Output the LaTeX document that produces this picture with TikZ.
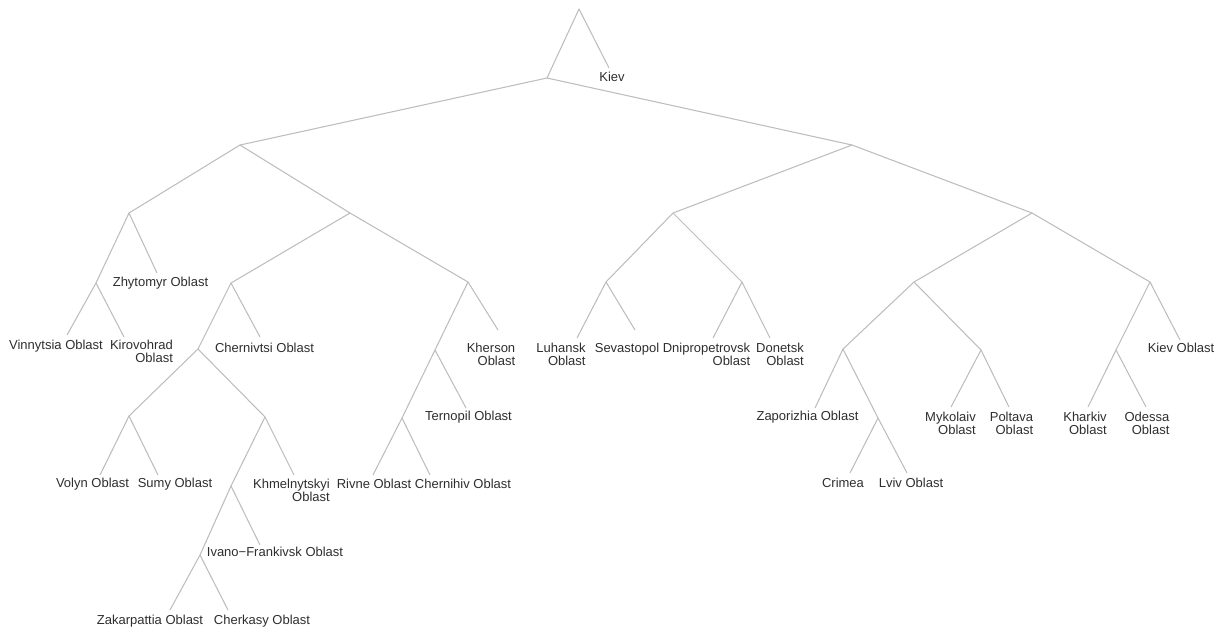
\documentclass[tikz,border=0pt]{standalone}
\usepackage{fontspec}
\setmainfont{Liberation Sans}
\usepackage{xcolor}
\definecolor{edgegray}{HTML}{BDBDBD}
\definecolor{txtgray}{HTML}{2E2E2E}

\begin{document}
\begin{tikzpicture}[
    x=0.02cm, y=-0.02cm,
    edge/.style={draw=edgegray, line width=0.6pt, line join=round},
    lbl/.style={anchor=north, inner sep=0pt, align=right, text=txtgray, font=\fontsize{7.4}{7.4}\selectfont}
]
\useasboundingbox (0,0) rectangle (1220,630);
% junctions
\coordinate (r) at (579,9);
\coordinate (j1) at (547,78);
\coordinate (a) at (240,145);
\coordinate (b) at (852,145);
\coordinate (a1) at (129,213);
\coordinate (a2) at (350,213);
\coordinate (a11) at (96,283);
\coordinate (a21) at (231,283);
\coordinate (a22) at (468,282);
\coordinate (a211) at (198,349);
\coordinate (a221) at (435,350);
\coordinate (a2111) at (129,416);
\coordinate (a2112) at (265,417);
\coordinate (a2211) at (402,418);
\coordinate (a21121) at (231,486);
\coordinate (a211211) at (200,555);
\coordinate (b1) at (673,213);
\coordinate (b2) at (1032,213);
\coordinate (b11) at (606,282);
\coordinate (b12) at (742,282);
\coordinate (b21) at (914,282);
\coordinate (b22) at (1150,282);
\coordinate (b211) at (843,349);
\coordinate (b212) at (981,350);
\coordinate (b221) at (1116,350);
\coordinate (b2111) at (878,418);
% leaf ends
\coordinate (kv) at (609,68);
\coordinate (zhy) at (157,273);
\coordinate (vin) at (67,335);
\coordinate (kir) at (124,337);
\coordinate (chv) at (260,337);
\coordinate (vol) at (100,475);
\coordinate (sum) at (158,475);
\coordinate (khm) at (294,475);
\coordinate (iva) at (260,545);
\coordinate (zak) at (170,610);
\coordinate (chk) at (228,610);
\coordinate (khe) at (498,330);
\coordinate (ter) at (466,408);
\coordinate (riv) at (373,475);
\coordinate (chh) at (430,475);
\coordinate (luh) at (577,338);
\coordinate (sev) at (635,330);
\coordinate (dni) at (713,338);
\coordinate (don) at (770,338);
\coordinate (zap) at (815,408);
\coordinate (cri) at (850,473);
\coordinate (lvi) at (907,473);
\coordinate (myk) at (951,407);
\coordinate (pol) at (1009,407);
\coordinate (kvo) at (1180,340);
\coordinate (kha) at (1088,407);
\coordinate (ode) at (1146,407);
% edges
\draw[edge] (j1) -- (r) -- (kv);
\draw[edge] (a) -- (j1) -- (b);
\draw[edge] (a1) -- (a) -- (a2);
\draw[edge] (a11) -- (a1) -- (zhy);
\draw[edge] (vin) -- (a11) -- (kir);
\draw[edge] (a21) -- (a2) -- (a22);
\draw[edge] (a211) -- (a21) -- (chv);
\draw[edge] (a2111) -- (a211) -- (a2112);
\draw[edge] (vol) -- (a2111) -- (sum);
\draw[edge] (a21121) -- (a2112) -- (khm);
\draw[edge] (a211211) -- (a21121) -- (iva);
\draw[edge] (zak) -- (a211211) -- (chk);
\draw[edge] (a221) -- (a22) -- (khe);
\draw[edge] (a2211) -- (a221) -- (ter);
\draw[edge] (riv) -- (a2211) -- (chh);
\draw[edge] (b1) -- (b) -- (b2);
\draw[edge] (b11) -- (b1) -- (b12);
\draw[edge] (luh) -- (b11) -- (sev);
\draw[edge] (dni) -- (b12) -- (don);
\draw[edge] (b21) -- (b2) -- (b22);
\draw[edge] (b211) -- (b21) -- (b212);
\draw[edge] (zap) -- (b211) -- (b2111);
\draw[edge] (cri) -- (b2111) -- (lvi);
\draw[edge] (myk) -- (b212) -- (pol);
\draw[edge] (b221) -- (b22) -- (kvo);
\draw[edge] (kha) -- (b221) -- (ode);
% labels
\node[lbl] (kvT) at (612,72) {Kiev};
\node[lbl] (zhyT) at (160.5,277) {Zhytomyr Oblast};
\node[lbl] (vinT) at (56,340) {Vinnytsia Oblast};
\node[lbl] (kirT) at (141.5,340) {Kirovohrad\\Oblast};
\node[lbl] (chvT) at (264.5,343) {Chernivtsi Oblast};
\node[lbl] (volT) at (92.5,478) {Volyn Oblast};
\node[lbl] (sumT) at (175,478) {Sumy Oblast};
\node[lbl] (khmT) at (291.5,479) {Khmelnytskyi\\Oblast};
\node[lbl] (ivaT) at (275,547) {Ivano−Frankivsk Oblast};
\node[lbl] (zakT) at (150,615) {Zakarpattia Oblast};
\node[lbl] (chkT) at (262,615) {Cherkasy Oblast};
\node[lbl] (kheT) at (491,343) {Kherson\\Oblast};
\node[lbl] (terT) at (468.5,411) {Ternopil Oblast};
\node[lbl] (rivT) at (374,479) {Rivne Oblast};
\node[lbl] (chhT) at (463,479) {Chernihiv Oblast};
\node[lbl] (luhT) at (561,343) {Luhansk\\Oblast};
\node[lbl] (sevT) at (627,343) {Sevastopol};
\node[lbl] (dniT) at (706.5,343) {Dnipropetrovsk\\Oblast};
\node[lbl] (donT) at (780,343) {Donetsk\\Oblast};
\node[lbl] (zapT) at (807.5,411) {Zaporizhia Oblast};
\node[lbl] (criT) at (843,478) {Crimea};
\node[lbl] (lviT) at (911,478) {Lviv Oblast};
\node[lbl] (mykT) at (950.5,412) {Mykolaiv\\Oblast};
\node[lbl] (polT) at (1011.5,412) {Poltava\\Oblast};
\node[lbl] (khaT) at (1085,412) {Kharkiv\\Oblast};
\node[lbl] (odeT) at (1147,412) {Odessa\\Oblast};
\node[lbl] (kvoT) at (1181,343) {Kiev Oblast};
\end{tikzpicture}
\end{document}
